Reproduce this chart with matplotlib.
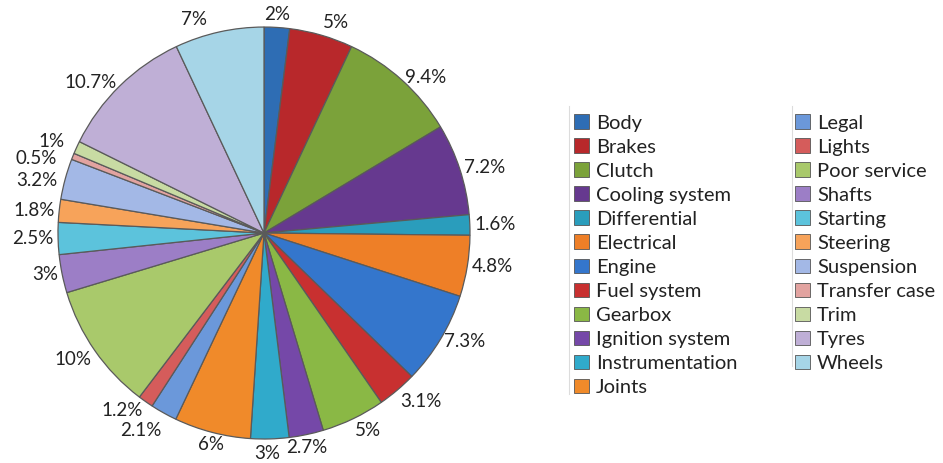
import numpy as np
import matplotlib
matplotlib.use("Agg")
import matplotlib.pyplot as plt
from matplotlib.patches import Patch
from matplotlib.lines import Line2D

# breakdown causes, clockwise from 12 o'clock
causes = ["Body", "Brakes", "Clutch", "Cooling system", "Differential",
          "Electrical", "Engine", "Fuel system", "Gearbox", "Ignition system",
          "Instrumentation", "Joints", "Legal", "Lights", "Poor service",
          "Shafts", "Starting", "Steering", "Suspension", "Transfer case",
          "Trim", "Tyres", "Wheels"]
shares = [2, 5, 9.4, 7.2, 1.6, 4.8, 7.3, 3.1, 5, 2.7, 3, 6, 2.1, 1.2, 10,
          3, 2.5, 1.8, 3.2, 0.5, 1, 10.7, 7]
colours = ["#2E6DB4", "#B8282B", "#7BA23A", "#66398F", "#2A9DBC",
           "#EE7F27", "#3476CC", "#C83030", "#8AB845", "#7548A8",
           "#30AACB", "#F08A2A", "#6B98DA", "#D55C5B", "#A9C96B",
           "#9C7EC6", "#5CC3DC", "#F7A35A", "#A3B8E6", "#E2A3A0",
           "#C8DBA3", "#BFAFD6", "#A6D5E7"]

# pixel nudges for labels that would otherwise collide or sit oddly
nudge = {"Wheels": (-24, 0), "Poor service": (0, -7), "Legal": (0, -5),
         "Lights": (0, 3), "Transfer case": (-12, -4), "Trim": (-8, 4),
         "Suspension": (-4, -3), "Instrumentation": (-3, -2)}

plt.rcParams["font.family"] = ["Lato", "DejaVu Sans"]

fig = plt.figure(figsize=(9.43, 4.63), dpi=100)
ax = fig.add_axes([0.0615, 0.0518, 0.4369, 0.8898])

wedges, _ = ax.pie(shares, colors=colours, startangle=90, counterclock=False,
                   radius=1.0,
                   wedgeprops=dict(edgecolor="#5a5a5a", linewidth=0.9))

total = sum(shares)
start = 90.0
for name, v in zip(causes, shares):
    mid = start - 360 * v / total / 2
    start -= 360 * v / total
    a = np.deg2rad(mid)
    cx, cy = np.cos(a), np.sin(a)
    if cx > 0.27:
        ha = "left"
    elif cx < -0.27:
        ha = "right"
    else:
        ha = "center"
    if cy > 0.9:
        va = "bottom"
    elif cy < -0.7:
        va = "top"
    else:
        va = "center"
    dx, dy = nudge.get(name, (0, 0))
    ax.annotate(f"{v:g}%", (1.02 * cx, 1.02 * cy), xytext=(dx, dy),
                textcoords="offset pixels", ha=ha, va=va,
                fontsize=13.5, color="#222222", annotation_clip=False)

ax.set_xlim(-1, 1)
ax.set_ylim(-1, 1)
ax.set_aspect("equal")
ax.axis("off")

handles = [Patch(facecolor=c, edgecolor="#555555", linewidth=0.6)
           for c in colours]
fig.legend(handles, causes, ncol=2, loc="upper left",
           bbox_to_anchor=(0.598, 0.775), frameon=False,
           fontsize=14.5, handlelength=0.75, handleheight=0.75,
           handletextpad=0.35, labelspacing=0.33, columnspacing=2.85,
           borderpad=0, labelcolor="#222222")

# faint bracket lines beside the legend columns
for xf, y0, y1 in ((0.603, 0.15, 0.77), (0.840, 0.21, 0.77)):
    fig.add_artist(Line2D([xf, xf], [y0, y1], color="#dcdcdc",
                          linewidth=0.8, transform=fig.transFigure))

fig.savefig("out.png", dpi=100, facecolor="white")
